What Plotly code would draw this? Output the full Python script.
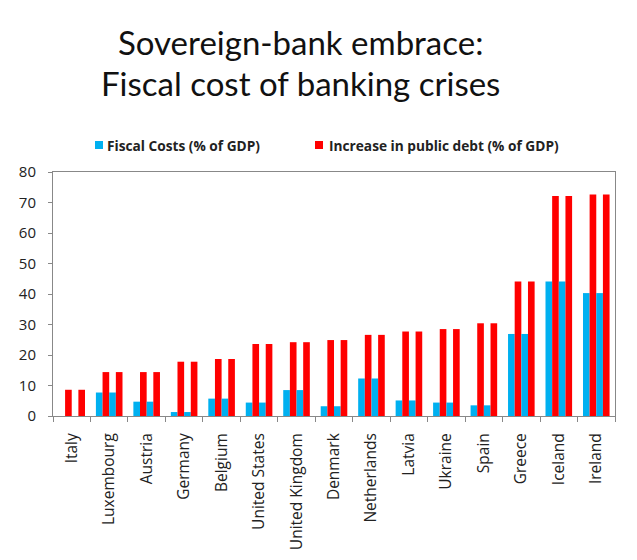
import plotly.graph_objects as go

countries = ["Italy", "Luxembourg", "Austria", "Germany", "Belgium", "United States",
             "United Kingdom", "Denmark", "Netherlands", "Latvia", "Ukraine", "Spain",
             "Greece", "Iceland", "Ireland"]
fiscal_costs = [0.0, 7.7, 4.7, 1.3, 5.7, 4.4, 8.5, 3.2, 12.3, 5.1, 4.4, 3.5, 26.9, 44.1, 40.3]
debt_increase = [8.6, 14.4, 14.4, 17.8, 18.7, 23.6, 24.2, 24.9, 26.6, 27.7, 28.5, 30.4, 44.1, 72.1, 72.6]
series_names = ["Fiscal Costs (% of GDP)", "Increase in public debt (% of GDP)"]
title_lines = ["Sovereign-bank embrace:", "Fiscal cost of banking crises"]

BLUE = "#00B0F0"
RED = "#FF0000"

W, H = 637, 560
L, R, T, B = 53, 22, 172, 144
PW, PH = W - L - R, H - T - B


def px_x(x):
    return (x - L) / PW


def px_y(y):
    return (H - B - y) / PH


fig = go.Figure()
for vals, name, col in [(fiscal_costs, series_names[0], BLUE),
                        (debt_increase, series_names[1], RED),
                        (fiscal_costs, series_names[0], BLUE),
                        (debt_increase, series_names[1], RED)]:
    fig.add_trace(go.Bar(x=countries, y=vals, name=name, marker_color=col,
                         marker_line_width=0, showlegend=False))

annotations = []
# title lines
for line, yc in zip(title_lines, [42, 83]):
    annotations.append(dict(text=line, xref="paper", yref="paper", x=px_x(300), y=px_y(yc),
                            xanchor="center", yanchor="middle", showarrow=False,
                            font=dict(size=33, color="#111", family="Lato, Open Sans, sans-serif")))
# legend
shapes = []
for name, col, sq_x, tx_x in [(series_names[0], BLUE, 95, 105), (series_names[1], RED, 315, 327)]:
    shapes.append(dict(type="rect", xref="paper", yref="paper",
                       x0=px_x(sq_x), x1=px_x(sq_x + 8), y0=px_y(149), y1=px_y(141),
                       fillcolor=col, line_width=0))
    annotations.append(dict(text=name, xref="paper", yref="paper", x=px_x(tx_x), y=px_y(145),
                            xanchor="left", yanchor="middle", showarrow=False,
                            font=dict(size=13.7, color="#222", family="Open Sans, sans-serif",
                                      weight="bold")))

fig.update_layout(
    width=W, height=H,
    margin=dict(l=L, r=R, t=T, b=B, autoexpand=False),
    paper_bgcolor="white", plot_bgcolor="white",
    barmode="group", bargap=0.29, bargroupgap=0,
    font=dict(family="Open Sans, sans-serif", color="#222"),
    showlegend=False,
    annotations=annotations,
    shapes=shapes,
    xaxis=dict(type="category", tickangle=-90, tickfont=dict(size=15.5, color="#222"),
               ticks="outside", tickson="boundaries", ticklen=5, tickcolor="#888",
               ticklabelstandoff=10, automargin=False,
               showline=True, linecolor="#888", linewidth=1, mirror=True,
               showgrid=False),
    yaxis=dict(range=[0, 80], dtick=10, tickfont=dict(size=15, color="#222"),
               ticks="outside", ticklen=4, tickcolor="#888",
               ticklabelstandoff=9, automargin=False,
               showline=True, linecolor="#888", linewidth=1, mirror=True,
               showgrid=False, zeroline=False),
)

fig.write_html("out.html")
